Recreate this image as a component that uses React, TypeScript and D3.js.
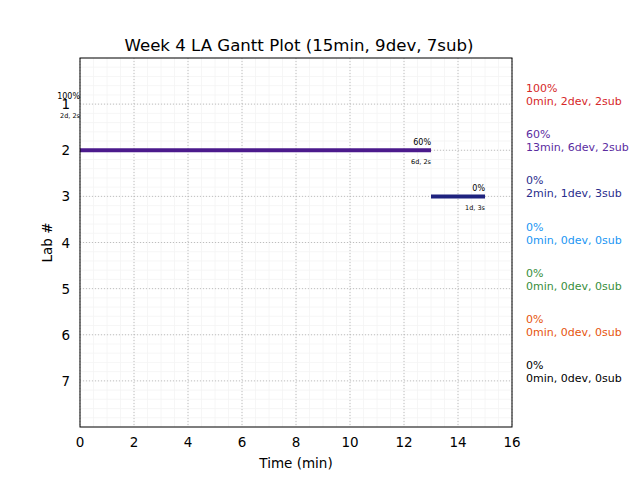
import React from "react";
import * as d3 from "d3";

const labs = [1, 2, 3, 4, 5, 6, 7];
const starts = [0, 0, 13, 0, 0, 0, 0];
const durations = [0, 13, 2, 0, 0, 0, 0];
const percents = ["100%", "60%", "0%", "0%", "0%", "0%", "0%"];
const details = ["2d, 2s", "6d, 2s", "1d, 3s", "", "", "", ""];
const summaries = [
  "0min, 2dev, 2sub",
  "13min, 6dev, 2sub",
  "2min, 1dev, 3sub",
  "0min, 0dev, 0sub",
  "0min, 0dev, 0sub",
  "0min, 0dev, 0sub",
  "0min, 0dev, 0sub",
];
const colors = ["#d62728", "#4b1a8c", "#1f237f", "#2196f3", "#388e3c", "#e6550d", "#000000"];
const textColors = ["#d62728", "#5b2c9f", "#2a2d8c", "#2196f3", "#388e3c", "#e6550d", "#000000"];
const xTicks = [0, 2, 4, 6, 8, 10, 12, 14, 16];
const title = "Week 4 LA Gantt Plot (15min, 9dev, 7sub)";

export default function App() {
  const W = 640, H = 480;
  const left = 80, right = 512, top = 58, bottom = 427;
  const x = d3.scaleLinear().domain([0, 16]).range([left, right]);
  const y = d3.scaleLinear().domain([0, 8]).range([top, bottom]);
  const xMinor = d3.range(0, 16.01, 0.5);
  const yMinor = d3.range(0, 8.01, 0.2);
  const font = "DejaVu Sans, sans-serif";
  return (
    <svg width={W} height={H} style={{ position: "absolute", left: 0, top: 0, background: "#fff" }} fontFamily={font}>
      <rect x={0} y={0} width={W} height={H} fill="#fff" />
      {xMinor.map((v, i) => (
        <line key={"xm" + i} x1={x(v)} x2={x(v)} y1={top} y2={bottom} stroke="#f4f4f4" strokeWidth={0.8} />
      ))}
      {yMinor.map((v, i) => (
        <line key={"ym" + i} x1={left} x2={right} y1={y(v)} y2={y(v)} stroke="#f4f4f4" strokeWidth={0.8} />
      ))}
      {xTicks.map((v) => (
        <line key={"xg" + v} x1={x(v)} x2={x(v)} y1={top} y2={bottom} stroke="#b0b0b0" strokeWidth={0.8} strokeDasharray="1,2" />
      ))}
      {labs.map((v) => (
        <line key={"yg" + v} x1={left} x2={right} y1={y(v)} y2={y(v)} stroke="#b0b0b0" strokeWidth={0.8} strokeDasharray="1,2" />
      ))}
      {labs.map((lab, i) =>
        durations[i] > 0 ? (
          <line key={"bar" + i} x1={x(starts[i])} x2={x(starts[i] + durations[i])} y1={y(lab)} y2={y(lab)} stroke={colors[i]} strokeWidth={4} />
        ) : null
      )}
      {labs.map((lab, i) =>
        details[i] ? (
          <g key={"lbl" + i}>
            <text x={x(starts[i] + durations[i])} y={y(lab) - 5} textAnchor="end" fontSize={8} fill="#000">
              {percents[i]}
            </text>
            <text x={x(starts[i] + durations[i])} y={y(lab) + 14} textAnchor="end" fontSize={6.5} fill="#000">
              {details[i]}
            </text>
          </g>
        ) : null
      )}
      <rect x={left} y={top} width={right - left} height={bottom - top} fill="none" stroke="#000" strokeWidth={1} />
      {xTicks.map((v) => (
        <text key={"xt" + v} x={x(v)} y={bottom + 20} textAnchor="middle" fontSize={13.5} fill="#000">
          {v}
        </text>
      ))}
      {labs.map((v) => (
        <text key={"yt" + v} x={left - 10} y={y(v) + 5} textAnchor="end" fontSize={13.5} fill="#000">
          {v}
        </text>
      ))}
      <text x={(left + right) / 2} y={468} textAnchor="middle" fontSize={13.5} fill="#000">
        Time (min)
      </text>
      <text transform={`translate(${52},${(top + bottom) / 2}) rotate(-90)`} textAnchor="middle" fontSize={13.5} fill="#000">
        Lab #
      </text>
      <text x={(left + right) / 2 + 3} y={51} textAnchor="middle" fontSize={16.6} fill="#000">
        {title}
      </text>
      {labs.map((lab, i) => (
        <g key={"leg" + i} fill={textColors[i]} fontSize={11}>
          <text x={526} y={y(lab) - 12}>{percents[i]}</text>
          <text x={526} y={y(lab) + 1}>{summaries[i]}</text>
        </g>
      ))}
    </svg>
  );
}
